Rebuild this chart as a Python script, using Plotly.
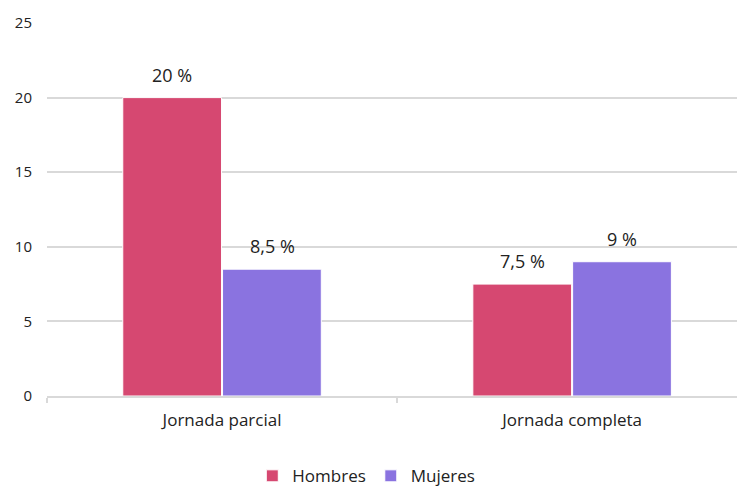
import plotly.graph_objects as go

categories = ["Jornada parcial", "Jornada completa"]
hombres = [20, 7.5]
mujeres = [8.5, 9]
hombres_labels = ["20 %", "7,5 %"]
mujeres_labels = ["8,5 %", "9 %"]
y_ticks = [0, 5, 10, 15, 20, 25]

PINK = "#D64871"
PURPLE = "#8A73E0"
FONT = "Open Sans"

fig = go.Figure()
fig.add_trace(go.Bar(name="Hombres", x=categories, y=hombres, marker=dict(color=PINK, line=dict(color="white", width=1))))
fig.add_trace(go.Bar(name="Mujeres", x=categories, y=mujeres, marker=dict(color=PURPLE, line=dict(color="white", width=1))))

for cat, v, lab in zip(categories, hombres, hombres_labels):
    fig.add_annotation(x=cat, y=v, text=lab, showarrow=False, xshift=-50, yshift=23,
                       font=dict(family=FONT, size=18, color="#222"))
for cat, v, lab in zip(categories, mujeres, mujeres_labels):
    fig.add_annotation(x=cat, y=v, text=lab, showarrow=False, xshift=50, yshift=23,
                       font=dict(family=FONT, size=18, color="#222"))

fig.update_layout(
    width=737, height=491,
    margin=dict(l=47, r=0, t=23, b=95),
    paper_bgcolor="white", plot_bgcolor="white",
    barmode="group", bargap=0.43, bargroupgap=0.01,
    font=dict(family=FONT, size=15, color="#222"),
    showlegend=True,
    legend=dict(orientation="h", xref="container", yref="container", x=0.497, xanchor="center",
                y=0.03, yanchor="middle", font=dict(family=FONT, size=17, color="#222"),
                itemwidth=30, tracegroupgap=0),
    xaxis=dict(range=[-0.5, 1.471], showgrid=False, showline=True, linecolor="#D9D9D9", linewidth=2,
               ticks="outside", tickson="boundaries", ticklen=5, tickcolor="#D9D9D9", tickwidth=2,
               tickfont=dict(family=FONT, size=17, color="#222"), ticklabelstandoff=8),
    yaxis=dict(range=[0, 25], tickvals=y_ticks, showgrid=True, gridcolor="#D9D9D9", gridwidth=2,
               zeroline=False, showline=False, ticks="", ticklabelstandoff=14,
               tickfont=dict(family=FONT, size=15, color="#222")),
)

fig.write_html("out.html")
